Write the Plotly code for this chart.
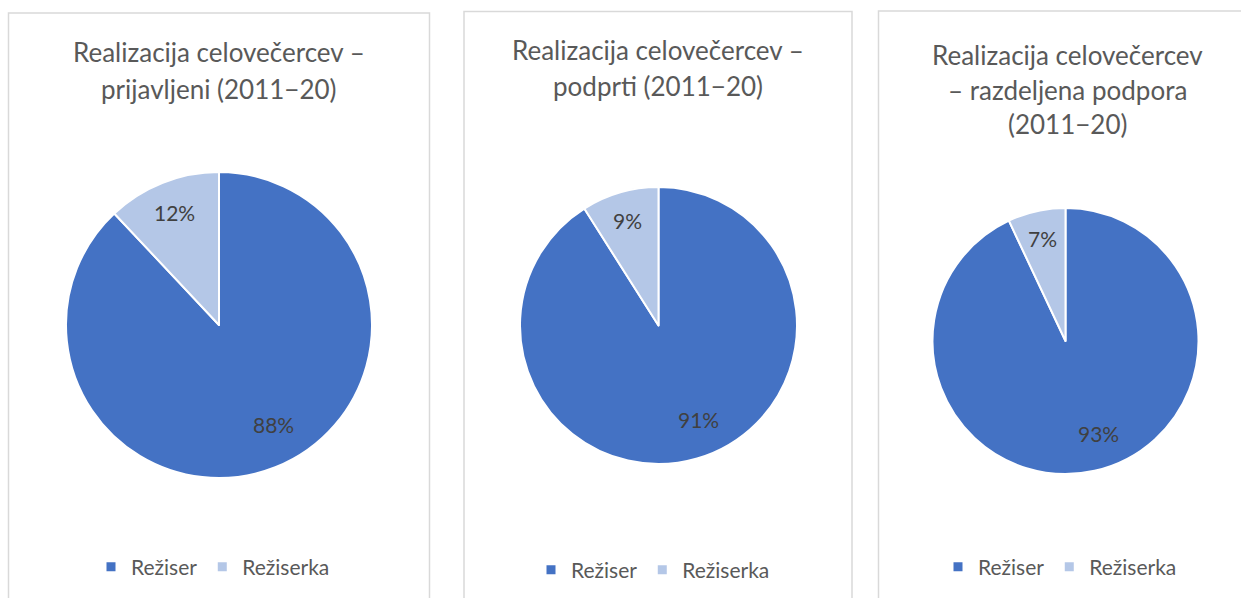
import math
import plotly.graph_objects as go

labels = ["Režiser", "Režiserka"]
prijavljeni = [88, 12]
podprti = [91, 9]
razdeljena = [93, 7]
colors = ["#4472C4", "#B4C7E7"]

titles = [
    ["Realizacija celovečercev –", "prijavljeni (2011−20)"],
    ["Realizacija celovečercev –", "podprti (2011−20)"],
    ["Realizacija celovečercev", "– razdeljena podpora", "(2011−20)"],
]

W, H = 1241, 598
FONT = "Lato"

def px_x(x):
    return x / W

def px_y(y):
    return 1 - y / H

fig = go.Figure()

pies = [
    (prijavljeni, (219, 325, 153), "legend"),
    (podprti, (658.5, 325.5, 138.5), "legend2"),
    (razdeljena, (1065.5, 341, 133), "legend3"),
]
label_r = [0.74, 0.79]
label_shift = [-7.0, 0.0]  # degrees
annotations = []
for vals, (cx, cy, r), lg in pies:
    fig.add_trace(go.Pie(
        labels=labels, values=vals, sort=False, direction="clockwise", rotation=0,
        marker=dict(colors=colors, line=dict(color="white", width=2)),
        textinfo="none", showlegend=False,
        domain=dict(x=[px_x(cx - r), px_x(cx + r)], y=[px_y(cy + r), px_y(cy - r)]),
        hoverinfo="label+percent",
    ))
    total = sum(vals)
    start = 0.0
    for i, v in enumerate(vals):
        frac = v / total
        mid = (start + frac / 2) * 2 * math.pi + math.radians(label_shift[i])
        start += frac
        lx = cx + label_r[i] * r * math.sin(mid)
        ly = cy - label_r[i] * r * math.cos(mid)
        annotations.append(dict(text=f"{round(frac * 100)}%", x=px_x(lx), y=px_y(ly),
                                xref="paper", yref="paper", xanchor="center", yanchor="middle",
                                showarrow=False, font=dict(family=FONT, size=21, color="#404040")))
    for name, col in zip(labels, colors):
        fig.add_trace(go.Scatter(
            x=[None], y=[None], mode="markers", name=name, legend=lg,
            marker=dict(symbol="square", size=9, color=col), hoverinfo="skip",
        ))

# panel borders
panels = [(8.5, 13, 429.5), (464, 11.5, 852), (878.5, 11, 1260)]
shapes = []
for x0, y0, x1 in panels:
    shapes.append(dict(type="rect", xref="paper", yref="paper",
                       x0=px_x(x0), x1=px_x(x1), y0=px_y(620), y1=px_y(y0),
                       line=dict(color="#D9D9D9", width=1.5), fillcolor="rgba(0,0,0,0)"))

title_pos = [(219, [52, 89]), (658, [50, 86]), (1067, [55, 90, 124])]
for lines, (cx, ys) in zip(titles, title_pos):
    for t, y in zip(lines, ys):
        annotations.append(dict(text=t, x=px_x(cx), y=px_y(y), xref="paper", yref="paper",
                                xanchor="center", yanchor="middle", showarrow=False,
                                font=dict(family=FONT, size=26, color="#595959")))

leg_common = dict(orientation="h", xanchor="left", yanchor="middle",
                  font=dict(family=FONT, size=21, color="#595959"),
                  bgcolor="rgba(0,0,0,0)", itemclick=False, itemdoubleclick=False)

fig.update_layout(
    width=W, height=H, margin=dict(l=0, r=0, t=0, b=0),
    paper_bgcolor="white", plot_bgcolor="white",
    xaxis=dict(visible=False), yaxis=dict(visible=False),
    shapes=shapes, annotations=annotations,
    legend=dict(x=px_x(91), y=px_y(567), **leg_common),
    legend2=dict(x=px_x(531), y=px_y(570), **leg_common),
    legend3=dict(x=px_x(938), y=px_y(567), **leg_common),
)

fig.write_html("out.html", config={"displayModeBar": False},
               post_script="document.body.style.margin='0';")
